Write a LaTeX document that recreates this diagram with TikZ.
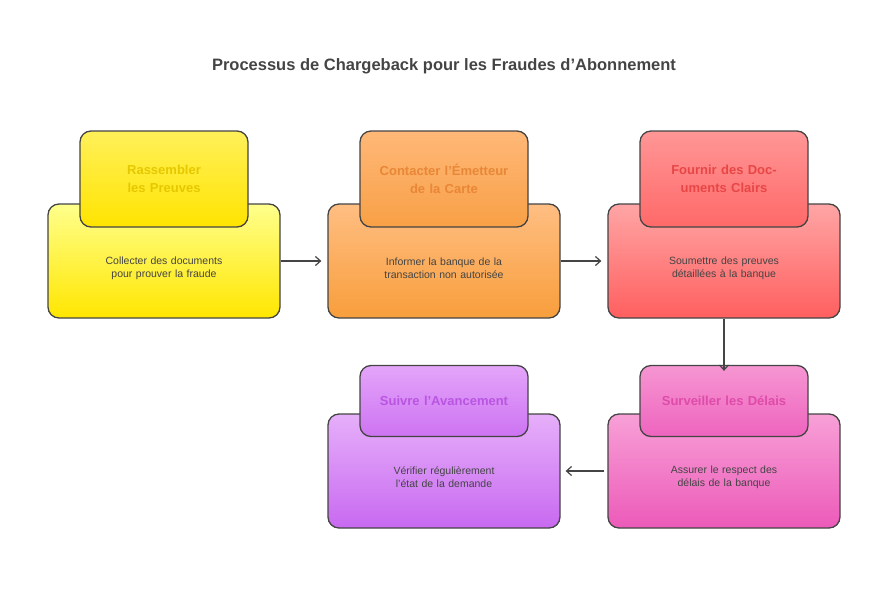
\documentclass[tikz,border=0pt]{standalone}
\usepackage{fontspec}
\setmainfont{Liberation Sans}
\usetikzlibrary{arrows.meta}
\definecolor{edge}{HTML}{444444}
\begin{document}
\begin{tikzpicture}[x=1pt, y=-1pt,
  card/.style = {draw=edge, line width=1.3pt, rounded corners=11pt, minimum width=232pt, minimum height=114pt, text width=170pt, align=center, font=\fontsize{10.5}{13}\selectfont, text=edge},
  tab/.style = {draw=edge, line width=1.3pt, rounded corners=11pt, minimum width=168pt, text width=150pt, align=center, font=\bfseries\fontsize{13}{18}\selectfont},
  link/.style = {-{Straight Barb[length=5pt,width=9pt]}, draw=edge, line width=1.2pt}]
\useasboundingbox (0,0) rectangle (888,600);
\node[font=\bfseries\fontsize{16.5}{20}\selectfont, text=edge] (title) at (444,66) {Processus de Chargeback pour les Fraudes d'Abonnement};

% premiere ligne
\node[card, top color=yellow!45!white, bottom color={rgb,255:red,255;green,230;blue,0}] (box1) at (164,261) {\\[10pt]Collecter des documents pour prouver la fraude};
\node[tab, minimum height=96pt, top color={rgb,255:red,255;green,240;blue,90}, bottom color={rgb,255:red,255;green,228;blue,0}, text={rgb,255:red,230;green,200;blue,0}] (tab1) at (164,179) {Rassembler les Preuves};

\node[card, top color={rgb,255:red,255;green,190;blue,130}, bottom color={rgb,255:red,248;green,158;blue,60}] (box2) at (444,261) {\\[10pt]Informer la banque de la transaction non autorisée};
\node[tab, minimum height=96pt, top color={rgb,255:red,255;green,184;blue,120}, bottom color={rgb,255:red,248;green,160;blue,70}, text={rgb,255:red,232;green,135;blue,55}] (tab2) at (444,179) {Contacter l'Émetteur de la Carte};

\node[card, top color={rgb,255:red,255;green,165;blue,165}, bottom color={rgb,255:red,255;green,95;blue,95}] (box3) at (724,261) {\\[10pt]Soumettre des preuves détaillées à la banque};
\node[tab, minimum height=96pt, top color={rgb,255:red,255;green,150;blue,150}, bottom color={rgb,255:red,255;green,105;blue,105}, text={rgb,255:red,232;green,70;blue,70}] (tab3) at (724,179) {Fournir des Documents Clairs};

% deuxieme ligne
\node[card, top color={rgb,255:red,248;green,160;blue,215}, bottom color={rgb,255:red,236;green,90;blue,185}] (box5) at (724,471) {\\[8pt]Assurer le respect des délais de la banque};
\node[tab, minimum height=71pt, top color={rgb,255:red,246;green,150;blue,210}, bottom color={rgb,255:red,238;green,100;blue,190}, text={rgb,255:red,222;green,75;blue,170}] (tab5) at (724,401) {Surveiller les Délais};

\node[card, top color={rgb,255:red,230;green,175;blue,250}, bottom color={rgb,255:red,200;green,105;blue,240}] (box6) at (444,471) {\\[8pt]Vérifier régulièrement l'état de la demande};
\node[tab, minimum height=71pt, top color={rgb,255:red,228;green,165;blue,250}, bottom color={rgb,255:red,205;green,115;blue,242}, text={rgb,255:red,185;green,85;blue,225}] (tab6) at (444,401) {Suivre l'Avancement};

\draw[link] (box1.east) -- ([xshift=-6pt]box2.west);
\draw[link] (box2.east) -- ([xshift=-6pt]box3.west);
\draw[link] (box3.south) -- ([yshift=-6pt]tab5.north);
\draw[link] ([xshift=-3pt]box5.west) -- ([xshift=5pt]box6.east);
\end{tikzpicture}
\end{document}
